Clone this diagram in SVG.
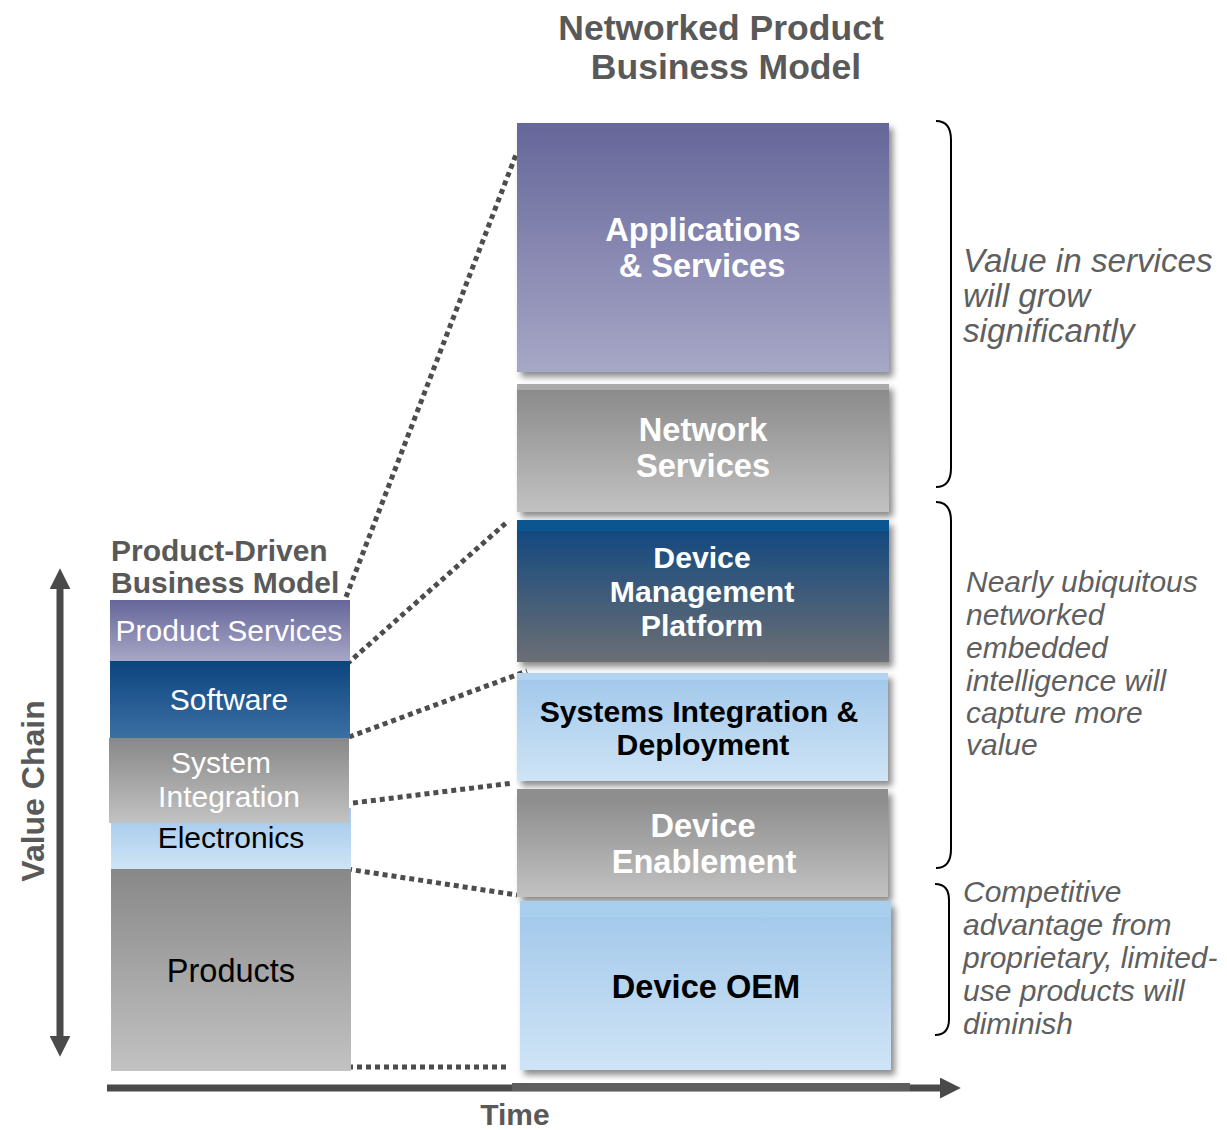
<svg xmlns="http://www.w3.org/2000/svg" width="1227" height="1130" viewBox="0 0 1227 1130">
<defs>
<linearGradient id="gPurple" x1="0" y1="0" x2="0" y2="1"><stop offset="0" stop-color="#66669a"/><stop offset="1" stop-color="#a7a7c7"/></linearGradient>
<linearGradient id="gNavy" x1="0" y1="0" x2="0" y2="1"><stop offset="0" stop-color="#0c447e"/><stop offset="1" stop-color="#3b70a4"/></linearGradient>
<linearGradient id="gNavyGray" x1="0" y1="0" x2="0" y2="1"><stop offset="0" stop-color="#0d4680"/><stop offset="1" stop-color="#6c6f74"/></linearGradient>
<linearGradient id="gGray" x1="0" y1="0" x2="0" y2="1"><stop offset="0" stop-color="#888888"/><stop offset="1" stop-color="#c2c2c2"/></linearGradient>
<linearGradient id="gBlue" x1="0" y1="0" x2="0" y2="1"><stop offset="0" stop-color="#a0c7ea"/><stop offset="1" stop-color="#cfe4f6"/></linearGradient>
<filter id="sh" x="-5%" y="-5%" width="115%" height="120%"><feDropShadow dx="4" dy="5" stdDeviation="3" flood-color="#000" flood-opacity="0.45"/></filter>
<marker id="ah" viewBox="0 0 10 10" refX="2" refY="5" markerWidth="3" markerHeight="3" orient="auto-start-reverse" markerUnits="strokeWidth"><path d="M0,0 L10,5 L0,10 z" fill="#4a4a4a"/></marker>
<style>
.title{font-family:"Liberation Sans",Arial,sans-serif;font-weight:bold;fill:#595959}
.lw{font-family:"Liberation Sans",Arial,sans-serif;font-size:30px;fill:#ffffff;text-anchor:middle}
.lb{font-family:"Liberation Sans",Arial,sans-serif;font-size:30px;fill:#000000;text-anchor:middle}
.rw{font-family:"Liberation Sans",Arial,sans-serif;font-weight:bold;font-size:32.6px;fill:#ffffff;text-anchor:middle}
.rb{font-family:"Liberation Sans",Arial,sans-serif;font-weight:bold;font-size:32.6px;fill:#000000;text-anchor:middle}
.sm{font-size:30.2px}
.note{font-family:"Liberation Sans",Arial,sans-serif;font-style:italic;font-size:30px;fill:#5f5f5f}
.big{font-size:33.2px}
.dot{fill:none;stroke:#4d4d4d;stroke-width:5;stroke-dasharray:5 4}
.brace{fill:none;stroke:#000;stroke-width:2}
.axis{stroke:#4a4a4a;stroke-width:7;fill:none}
</style>
</defs>
<rect width="1227" height="1130" fill="#ffffff"/>

<g id="title-networked">
<text class="title" x="721" y="40" font-size="35.5" text-anchor="middle">Networked Product</text>
<text class="title" x="726" y="79" font-size="35.5" text-anchor="middle">Business Model</text>
</g>
<g id="title-product-driven">
<text class="title" x="111" y="561" font-size="30">Product-Driven</text>
<text class="title" x="111" y="593" font-size="30">Business Model</text>
</g>

<g id="connectors">
<line class="dot" x1="346" y1="597" x2="517" y2="152"/>
<line class="dot" x1="347" y1="664" x2="507" y2="522"/>
<line class="dot" x1="349" y1="737" x2="527" y2="671"/>
<line class="dot" x1="353" y1="803" x2="513" y2="783"/>
<line class="dot" x1="347" y1="869" x2="517" y2="895"/>
<line class="dot" x1="348" y1="1067" x2="510" y2="1067"/>
</g>

<g id="left-product-services">
<rect x="110" y="600" width="240" height="61" fill="url(#gPurple)"/>
<text class="lw" x="229" y="641">Product Services</text>
</g>
<g id="left-software">
<rect x="110" y="661" width="240" height="77" fill="url(#gNavy)"/>
<text class="lw" x="229" y="710">Software</text>
</g>
<g id="left-electronics">
<rect x="111" y="808" width="240" height="61" fill="url(#gBlue)"/>
<text class="lb" x="231" y="848">Electronics</text>
</g>
<g id="left-system-integration">
<rect x="109" y="738" width="240" height="85" fill="url(#gGray)"/>
<text class="lw" x="221" y="773">System</text>
<text class="lw" x="229" y="807">Integration</text>
</g>
<g id="left-products">
<rect x="111" y="869" width="240" height="202" fill="url(#gGray)"/>
<text class="lb" x="231" y="982" style="font-size:32.5px">Products</text>
</g>

<g id="right-applications">
<rect x="517" y="123" width="372" height="249" fill="url(#gPurple)" filter="url(#sh)"/>
<text class="rw" x="703" y="241">Applications</text>
<text class="rw" x="702" y="277">&amp; Services</text>
</g>
<g id="right-network-services">
<rect x="517" y="384" width="372" height="128" fill="url(#gGray)" filter="url(#sh)"/>
<rect x="517" y="384" width="372" height="6" fill="#aaaaaa"/>
<text class="rw" x="703" y="441">Network</text>
<text class="rw" x="703" y="477">Services</text>
</g>
<g id="right-device-management">
<rect x="517" y="520" width="372" height="142" fill="url(#gNavyGray)" filter="url(#sh)"/>
<rect x="517" y="520" width="372" height="11" fill="#0b5590"/>
<text class="rw sm" x="702" y="568">Device</text>
<text class="rw sm" x="702" y="602">Management</text>
<text class="rw sm" x="702" y="636">Platform</text>
</g>
<g id="right-systems-integration">
<rect x="517" y="673" width="371" height="108" fill="url(#gBlue)" filter="url(#sh)"/>
<rect x="517" y="673" width="371" height="7" fill="#b2d4f0"/>
<text class="rb sm" x="699" y="722">Systems Integration &amp;</text>
<text class="rb sm" x="703" y="755">Deployment</text>
</g>
<g id="right-device-enablement">
<rect x="517" y="789" width="371" height="108" fill="url(#gGray)" filter="url(#sh)"/>
<rect x="517" y="789" width="371" height="12" fill="#8e8e8e"/>
<text class="rw" x="703" y="837">Device</text>
<text class="rw" x="704" y="873">Enablement</text>
</g>
<g id="right-device-oem">
<rect x="520" y="901" width="371" height="169" fill="url(#gBlue)" filter="url(#sh)"/>
<rect x="520" y="901" width="371" height="16" fill="#a9cfee"/>
<text class="rb" x="706" y="998">Device OEM</text>
</g>

<g id="braces">
<path class="brace" d="M936,121 Q951,121 951,140 L951,468 Q951,487 936,487"/>
<path class="brace" d="M936,502 Q951,502 951,521 L951,849 Q951,868 936,868"/>
<path class="brace" d="M935,884 Q949,884 949,900 L949,1019 Q949,1035 935,1035"/>
</g>

<g id="note-services">
<text class="note big" x="963" y="272">Value in services</text>
<text class="note big" x="963" y="307">will grow</text>
<text class="note big" x="963" y="342">significantly</text>
</g>
<g id="note-embedded">
<text class="note" x="966" y="592">Nearly ubiquitous</text>
<text class="note" x="966" y="625">networked</text>
<text class="note" x="966" y="658">embedded</text>
<text class="note" x="966" y="691">intelligence will</text>
<text class="note" x="966" y="723">capture more</text>
<text class="note" x="966" y="755">value</text>
</g>
<g id="note-competitive">
<text class="note" x="963" y="902">Competitive</text>
<text class="note" x="963" y="935">advantage from</text>
<text class="note" x="963" y="968">proprietary, limited-</text>
<text class="note" x="963" y="1001">use products will</text>
<text class="note" x="963" y="1034">diminish</text>
</g>

<g id="axes">
<line class="axis" x1="60" y1="585" x2="60" y2="1040" marker-start="url(#ah)" marker-end="url(#ah)"/>
<text class="title" transform="translate(44,791) rotate(-90)" font-size="32" text-anchor="middle" fill="#4a4a4a">Value Chain</text>
<line class="axis" x1="107" y1="1088" x2="944" y2="1088" marker-end="url(#ah)"/>
<rect x="512" y="1083" width="398" height="8" fill="#5e5e5e"/>
<text class="title" x="515" y="1125" font-size="30" text-anchor="middle" fill="#4a4a4a">Time</text>
</g>
</svg>
